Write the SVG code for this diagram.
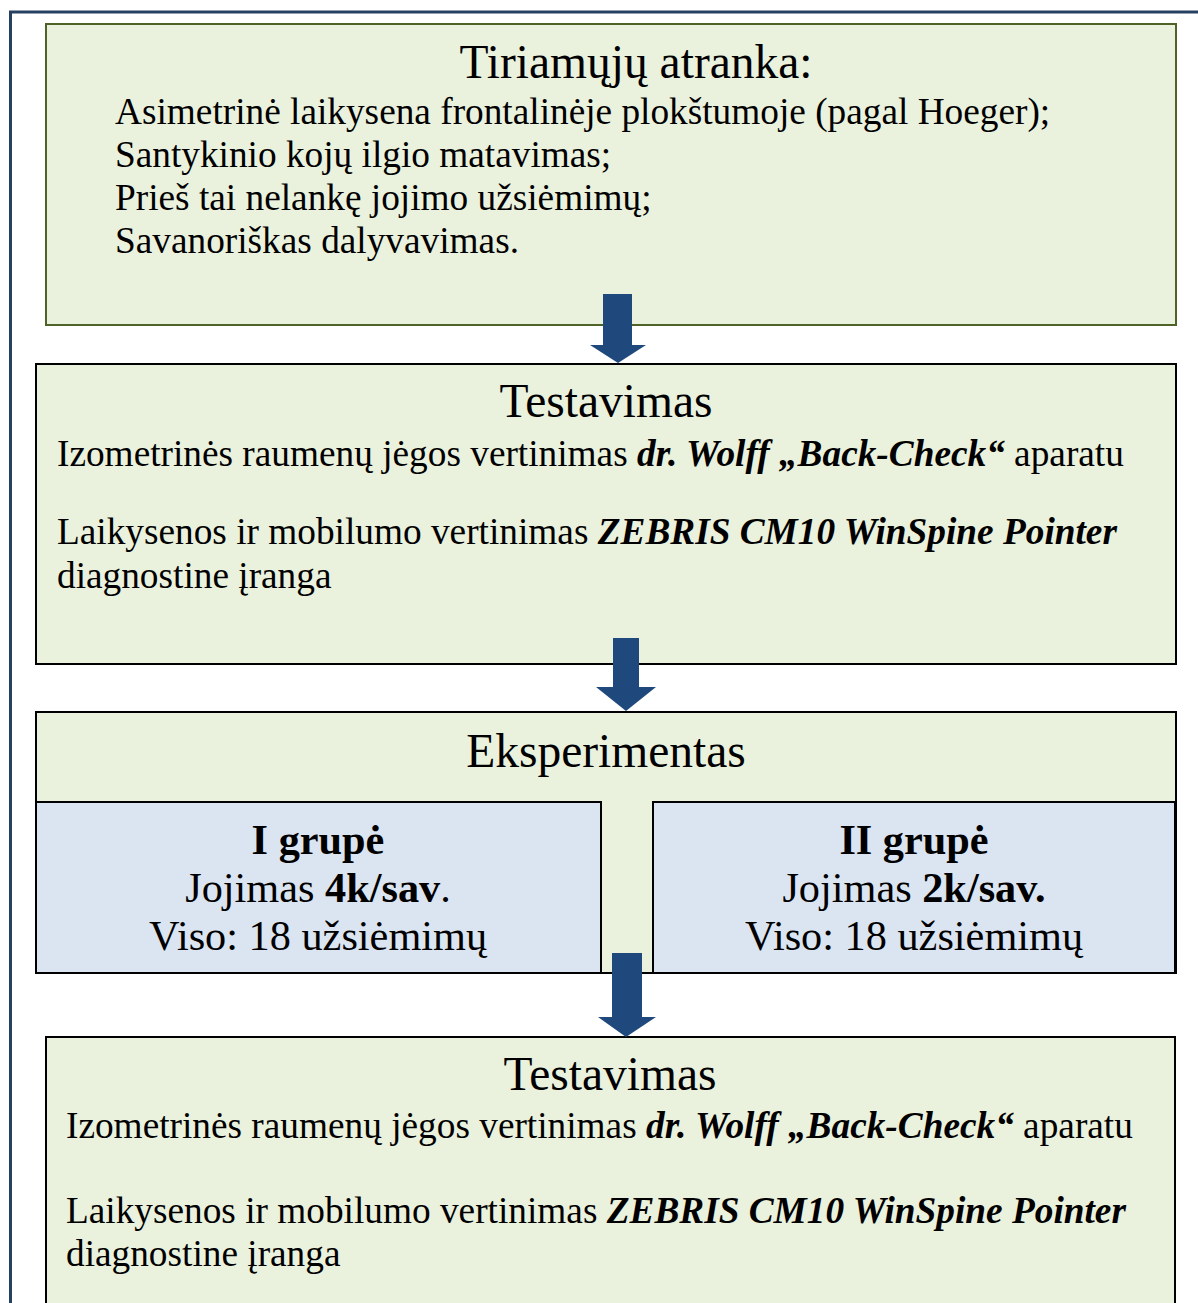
<svg xmlns="http://www.w3.org/2000/svg" width="1198" height="1303" viewBox="0 0 1198 1303">
<style>
.t{font-family:"Liberation Serif","Times New Roman",serif;fill:#000}
.h{font-size:47.5px;text-anchor:middle}
.b{font-size:37.3px}
.g{font-size:42.3px;text-anchor:middle}
.green{fill:#EAF1DD}
.blue{fill:#DBE5F1;stroke:#000;stroke-width:2}
.arr{fill:#1F497D}
</style>
<rect width="1198" height="1303" fill="#fff"/>
<rect x="10.5" y="12" width="1300" height="1400" fill="none" stroke="#254061" stroke-width="3"/>
<g id="node1">
<rect x="46" y="24" width="1130" height="301" class="green" stroke="#4F6228" stroke-width="2"/>
<text class="t" x="636" y="78" font-size="47.5" text-anchor="middle">Tiriamųjų atranka:</text>
<text class="t b" x="115" y="124">Asimetrinė laikysena frontalinėje plokštumoje (pagal Hoeger);</text>
<text class="t b" x="115" y="167">Santykinio kojų ilgio matavimas;</text>
<text class="t b" x="115" y="210">Prieš tai nelankę jojimo užsiėmimų;</text>
<text class="t b" x="115" y="253">Savanoriškas dalyvavimas.</text>
</g>
<g id="node2">
<rect x="36" y="364" width="1140" height="300" class="green" stroke="#000" stroke-width="2"/>
<text class="t h" x="606" y="417">Testavimas</text>
<text class="t b" x="57" y="466">Izometrinės raumenų jėgos vertinimas <tspan font-weight="bold" font-style="italic">dr. Wolff „Back-Check“</tspan> aparatu</text>
<text class="t b" x="57" y="544">Laikysenos ir mobilumo vertinimas <tspan font-weight="bold" font-style="italic">ZEBRIS CM10 WinSpine Pointer</tspan></text>
<text class="t b" x="57" y="588">diagnostine įranga</text>
</g>
<g id="node3">
<rect x="36" y="712" width="1140" height="261" class="green" stroke="#000" stroke-width="2"/>
<text class="t h" x="606" y="767">Eksperimentas</text>
</g>
<g id="node3a">
<rect x="36" y="802" width="565" height="171" class="blue"/>
<text class="t g" x="318" y="854" font-weight="bold">I grupė</text>
<text class="t g" x="318" y="902">Jojimas <tspan font-weight="bold">4k/sav</tspan>.</text>
<text class="t g" x="318" y="950">Viso: 18 užsiėmimų</text>
</g>
<g id="node3b">
<rect x="653" y="802" width="522" height="171" class="blue"/>
<text class="t g" x="914" y="854" font-weight="bold">II grupė</text>
<text class="t g" x="914" y="902">Jojimas <tspan font-weight="bold">2k/sav.</tspan></text>
<text class="t g" x="914" y="950">Viso: 18 užsiėmimų</text>
</g>
<g id="node4">
<rect x="46" y="1037" width="1129" height="300" class="green" stroke="#000" stroke-width="2"/>
<text class="t h" x="610" y="1090">Testavimas</text>
<text class="t b" x="66" y="1138">Izometrinės raumenų jėgos vertinimas <tspan font-weight="bold" font-style="italic">dr. Wolff „Back-Check“</tspan> aparatu</text>
<text class="t b" x="66" y="1223">Laikysenos ir mobilumo vertinimas <tspan font-weight="bold" font-style="italic">ZEBRIS CM10 WinSpine Pointer</tspan></text>
<text class="t b" x="66" y="1266">diagnostine įranga</text>
</g>
<g id="connectors">
<polygon class="arr" points="603,294 632,294 632,345 646,345 618,363 590,345 603,345"/>
<polygon class="arr" points="613,638 639,638 639,687 656,687 626,711 596,687 613,687"/>
<polygon class="arr" points="612,953 642,953 642,1017 656,1017 626,1037 598,1017 612,1017"/>
</g>
</svg>
